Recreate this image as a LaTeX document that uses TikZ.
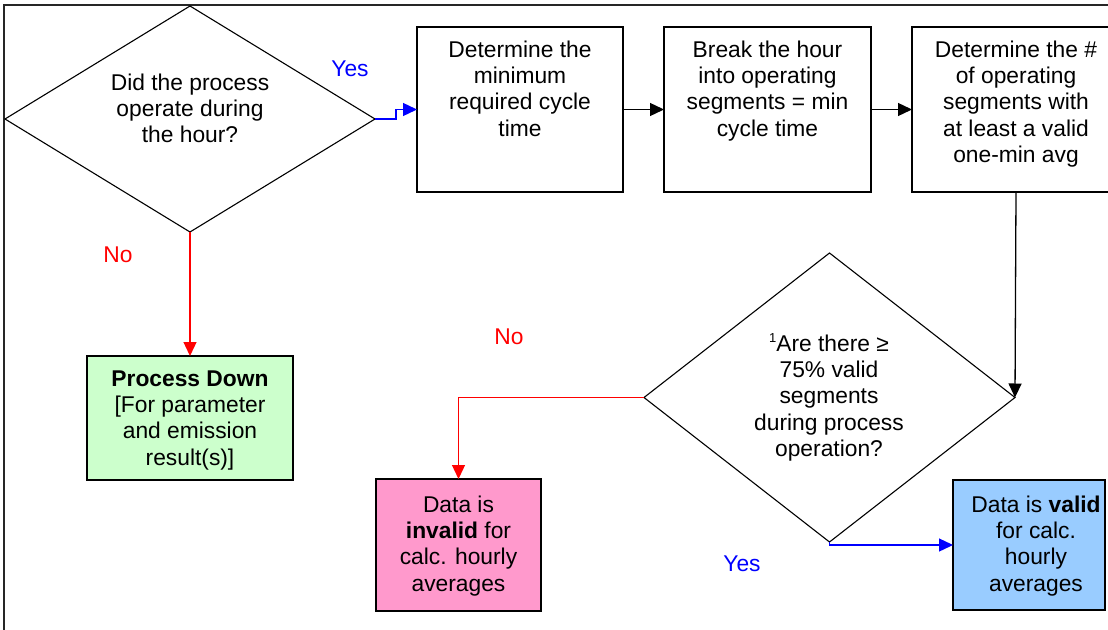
\documentclass[tikz,border=0pt]{standalone}
\usepackage{fontspec}
\setmainfont{Liberation Sans}
\usetikzlibrary{arrows.meta,shapes.geometric}
\definecolor{greenfill}{RGB}{204,255,204}
\definecolor{pinkfill}{RGB}{255,153,204}
\definecolor{bluefill}{RGB}{153,204,255}
\begin{document}
\begin{tikzpicture}[x=1pt,y=-1pt,
  txt/.style={font=\fontsize{22.8}{26.3}\selectfont, align=center, inner sep=0pt, text=black},
  procbox/.style={rectangle, draw=black, line width=1.6pt, inner sep=0pt, outer sep=0pt},
  decision/.style={diamond, draw=black, line width=1.1pt, inner sep=0pt, outer sep=0pt},
  conn/.style={line width=1.3pt, -{Triangle[length=14pt,width=13pt]}},
  lbl/.style={font=\fontsize{22.8}{26.3}\selectfont, inner sep=0pt}
]
\useasboundingbox (0,0) rectangle (1108,629);
% frame
\draw[line width=1.6pt, black!85] (4,650) -- (4,5) -- (1130,5);

% shapes
\node[decision, minimum width=370pt, minimum height=226pt] (d1) at (190,119) {};
\node[procbox, minimum width=206pt, minimum height=165pt] (b1) at (520,109.5) {};
\node[procbox, minimum width=207pt, minimum height=165pt] (b2) at (767.5,109.5) {};
\node[procbox, minimum width=208pt, minimum height=165pt] (b3) at (1016,109.5) {};
\node[decision, minimum width=371pt, minimum height=289pt] (d2) at (829.5,397.5) {};
\node[procbox, fill=greenfill, minimum width=206pt, minimum height=124pt] (green) at (190,418) {};
\node[procbox, fill=pinkfill, minimum width=165pt, minimum height=132pt] (pink) at (458.5,545) {};
\node[procbox, fill=bluefill, minimum width=152pt, minimum height=130pt] (blue) at (1029,545) {};

% texts
\node[txt, anchor=north] (t1) at (190,73.4) {Did the process\\operate during\\the hour?};
\node[txt, anchor=north] (tb1) at (520,40.4) {Determine the\\minimum\\required cycle\\time};
\node[txt, anchor=north] (tb2) at (767.5,40.4) {Break the hour\\into operating\\segments = min\\cycle time};
\node[txt, anchor=north] (tb3) at (1016,40.4) {Determine the \#\\of operating\\segments with\\at least a valid\\one-min avg};
\node[txt, anchor=north] (t2) at (829,334.4) {\smash{\raisebox{9pt}{\fontsize{13}{13}\selectfont 1}}Are there ≥\\75\% valid\\segments\\during process\\operation?};
\node[txt, anchor=north] (tg) at (190,370.4) {\textbf{Process Down}\\{[}For parameter\\and emission\\result(s)]};
\node[txt, anchor=north] (tp) at (458.5,495.4) {Data is\\\textbf{invalid} for\\calc. hourly\\averages};
\node[txt, anchor=north] (tbl) at (1036,495.4) {Data is \textbf{valid}\\for calc.\\hourly\\averages};

% labels
\node[lbl, text=blue] (yes1) at (350,69) {Yes};
\node[lbl, text=red] (no1) at (118,255) {No};
\node[lbl, text=red] (no2) at (509,337) {No};
\node[lbl, text=blue] (yes2) at (742,564) {Yes};

% connectors
\draw[conn, blue] (d1.east) -- ++(21,0) |- (b1.west);
\draw[conn] (b1.east) -- (b2.west);
\draw[conn] (b2.east) -- (b3.west);
\draw[conn] (b3.south) -- (d2.east);
\draw[conn, red] (d2.west) -| (pink.north);
\draw[conn, red] (d1.south) -- (green.north);
\draw[conn, blue] (d2.south) |- (blue.west);
\end{tikzpicture}
\end{document}
